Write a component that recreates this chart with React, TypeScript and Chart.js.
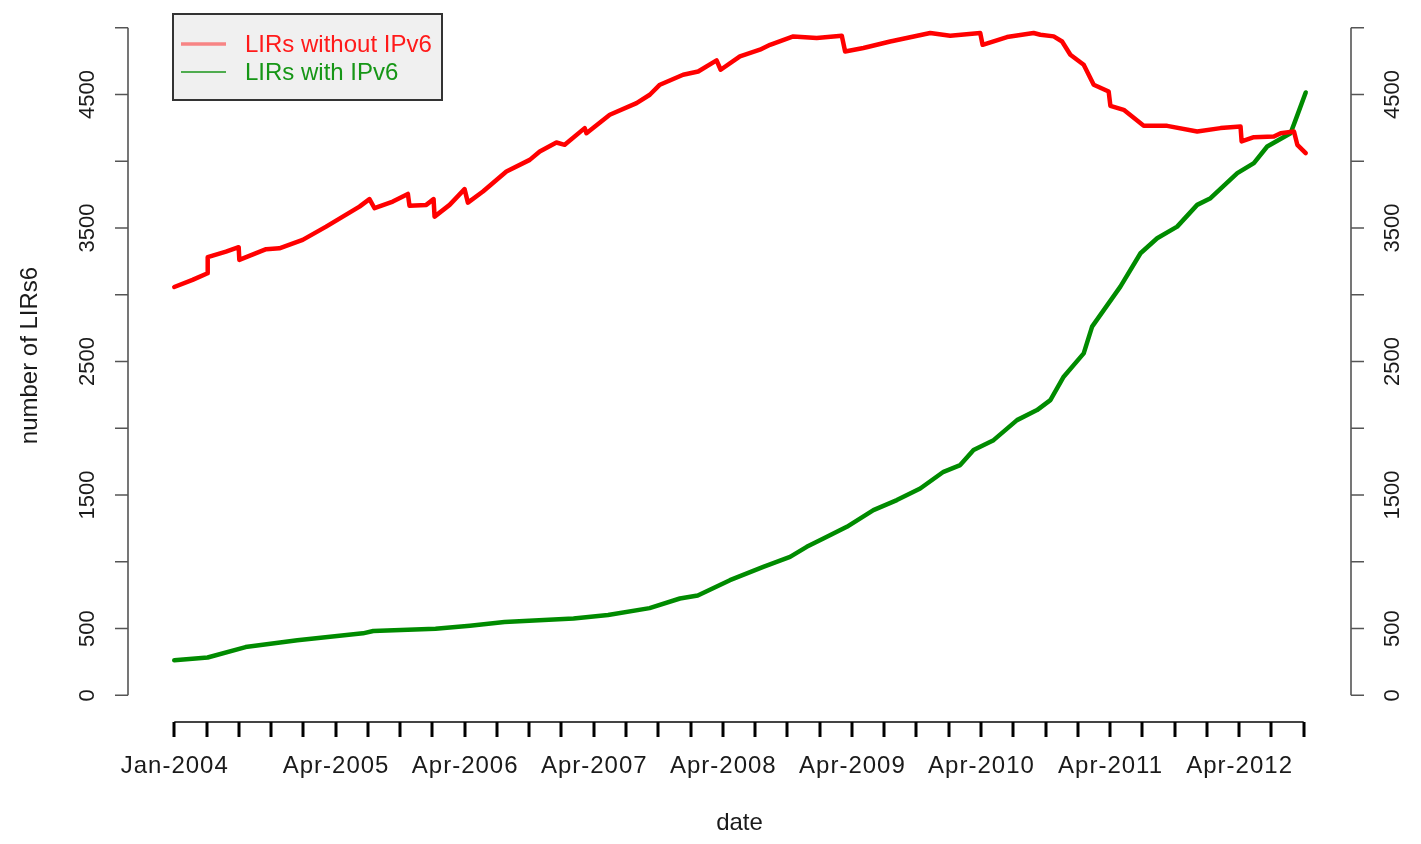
import React, { useEffect, useRef } from "react";
import { Chart, registerables } from "chart.js";

Chart.register(...registerables);

const FONT = '"Liberation Sans", Arial, Helvetica, sans-serif';

// x = months since Jan-2004
const redMonth = [
  0, 1.7, 3.1, 3.11, 4.81, 5.99, 6.05, 8.54, 9.77, 11.94, 14.12, 17.22, 18.15, 18.62,
  20.32, 21.72, 21.87, 23.43, 24.11, 24.2, 25.6, 26.99, 27.3, 28.7, 30.88, 33.05, 33.98,
  35.53, 36.3, 38.16, 38.32, 40.49, 42.98, 44.21, 45.15, 47.31, 48.71, 50.42, 50.8, 52.59,
  54.45, 55.39, 57.55, 59.73, 62.06, 62.37, 64.07, 66.56, 70.28, 72.14, 74.93, 75.15,
  77.42, 79.89, 80.52, 81.76, 82.54, 83.31, 84.55, 85.48, 86.87, 87.03, 88.27, 90.13,
  92.31, 95.1, 97.27, 99.13, 99.23, 100.37, 102.23, 102.86, 104.1, 104.41, 105.19,
];
const redValue = [
  3058, 3111, 3161, 3281, 3323, 3356, 3261, 3341, 3348, 3411, 3510, 3660, 3716, 3648,
  3698, 3755, 3666, 3673, 3716, 3585, 3673, 3791, 3690, 3773, 3923, 4010, 4073,
  4140, 4123, 4248, 4210, 4348, 4435, 4498, 4573, 4648, 4672, 4755, 4685, 4785,
  4835, 4872, 4935, 4923, 4940, 4822, 4848, 4897, 4960, 4940, 4960, 4872,
  4930, 4960, 4947, 4935, 4897, 4797, 4722, 4573, 4522, 4415, 4385, 4265,
  4265, 4223, 4248, 4260, 4148, 4180, 4185, 4210, 4223, 4123, 4060,
];

const greenMonth = [
  0, 3.1, 6.63, 11.44, 17.54, 18.5, 24.29, 27.49, 30.7, 37.12, 40.33, 44.19, 47.01,
  48.67, 51.66, 54.76, 57.25, 58.8, 60.35, 62.53, 65.0, 67.18, 69.35, 71.52, 73.07,
  74.31, 76.17, 78.35, 80.21, 81.45, 82.69, 84.55, 85.33, 87.96, 89.83, 91.38, 93.24,
  95.1, 96.34, 98.83, 100.37, 101.61, 103.78, 104.25, 105.19,
];
const greenValue = [
  262, 283, 361, 412, 464, 482, 498, 521, 549, 575, 601, 653, 725,
  748, 862, 962, 1037, 1112, 1174, 1262, 1387, 1462, 1549, 1674, 1724,
  1837, 1911, 2061, 2136, 2211, 2386, 2561, 2761, 3061, 3311, 3423, 3510,
  3673, 3723, 3911, 3986, 4110, 4210, 4310, 4515,
];

const seriesNames = ["LIRs without IPv6", "LIRs with IPv6"];
const seriesColors = ["#ff0000", "#008b00"];

const yTicks = [0, 500, 1000, 1500, 2000, 2500, 3000, 3500, 4000, 4500, 5000];
const yLabelTicks = [0, 500, 1500, 2500, 3500, 4500];
const xTicks = [
  0, 3, 6, 9, 12, 15, 18, 21, 24, 27, 30, 33, 36, 39, 42, 45, 48, 51, 54, 57, 60, 63,
  66, 69, 72, 75, 78, 81, 84, 87, 90, 93, 96, 99, 102, 105,
];
const xLabelMonths = [0, 15, 27, 39, 51, 63, 75, 87, 99];
const xLabels = [
  "Jan-2004", "Apr-2005", "Apr-2006", "Apr-2007", "Apr-2008",
  "Apr-2009", "Apr-2010", "Apr-2011", "Apr-2012",
];
const xTitle = "date";
const yTitle = "number of LIRs6";

const rAxesPlugin = {
  id: "rAxes",
  afterDraw(chart: any) {
    const ctx = chart.ctx;
    const xs = chart.scales.x;
    const ys = chart.scales.y;
    const area = chart.chartArea;
    ctx.save();
    const textCol = "#1a1a1a";

    // left & right axes
    const sides = [
      { x: area.left, dir: -1, lab: 88 },
      { x: area.right, dir: 1, lab: 1393 },
    ];
    for (const s of sides) {
      ctx.strokeStyle = "#555";
      ctx.lineWidth = 1.6;
      ctx.beginPath();
      ctx.moveTo(s.x, ys.getPixelForValue(yTicks[0]));
      ctx.lineTo(s.x, ys.getPixelForValue(yTicks[yTicks.length - 1]));
      for (const t of yTicks) {
        const py = ys.getPixelForValue(t);
        ctx.moveTo(s.x, py);
        ctx.lineTo(s.x + s.dir * 13, py);
      }
      ctx.stroke();
      ctx.fillStyle = textCol;
      ctx.font = `22px ${FONT}`;
      ctx.textAlign = "center";
      ctx.textBaseline = "middle";
      for (const t of yLabelTicks) {
        const py = ys.getPixelForValue(t);
        ctx.save();
        ctx.translate(s.lab, py);
        ctx.rotate(-Math.PI / 2);
        ctx.fillText(String(t), 0, 0);
        ctx.restore();
      }
    }

    // bottom axis
    const by = area.bottom;
    ctx.strokeStyle = "#444";
    ctx.lineWidth = 2;
    ctx.beginPath();
    ctx.moveTo(xs.getPixelForValue(xTicks[0]), by);
    ctx.lineTo(xs.getPixelForValue(xTicks[xTicks.length - 1]), by);
    ctx.stroke();
    ctx.strokeStyle = "#000";
    ctx.lineWidth = 3;
    ctx.beginPath();
    for (const t of xTicks) {
      const px = Math.round(xs.getPixelForValue(t));
      ctx.moveTo(px, by);
      ctx.lineTo(px, by + 15);
    }
    ctx.stroke();
    ctx.fillStyle = textCol;
    ctx.font = `24px ${FONT}`;
    ctx.textAlign = "center";
    ctx.textBaseline = "middle";
    ctx.letterSpacing = "1px";
    xLabelMonths.forEach((m, i) => {
      ctx.fillText(xLabels[i], xs.getPixelForValue(m) + 0.5, 766);
    });
    ctx.letterSpacing = "0px";

    // titles
    ctx.font = `24px ${FONT}`;
    ctx.fillText(xTitle, (area.left + area.right) / 2, 823);
    ctx.save();
    ctx.translate(30, (area.top + area.bottom) / 2 - 6);
    ctx.rotate(-Math.PI / 2);
    ctx.fillText(yTitle, 0, 0);
    ctx.restore();

    // legend
    const lx = 173, ly = 14, lw = 269, lh = 86;
    ctx.fillStyle = "#f0f0f0";
    ctx.fillRect(lx, ly, lw, lh);
    ctx.strokeStyle = "#333";
    ctx.lineWidth = 2;
    ctx.strokeRect(lx, ly, lw, lh);
    const rows = [44, 72];
    const swatch = ["rgba(255,0,0,0.45)", "#1a961a"];
    const swW = [3.5, 1.5];
    const txtCol = ["#ff1a1a", "#169616"];
    ctx.font = `24px ${FONT}`;
    ctx.textAlign = "left";
    rows.forEach((ry, i) => {
      ctx.strokeStyle = swatch[i];
      ctx.lineWidth = swW[i];
      ctx.beginPath();
      ctx.moveTo(181, ry);
      ctx.lineTo(226, ry);
      ctx.stroke();
      ctx.fillStyle = txtCol[i];
      ctx.fillText(seriesNames[i], 245, ry + 1);
    });
    ctx.restore();
  },
};

export default function App() {
  const ref = useRef<HTMLCanvasElement | null>(null);
  useEffect(() => {
    if (!ref.current) return;
    const chart = new Chart(ref.current, {
      type: "line",
      data: {
        datasets: [
          {
            label: seriesNames[0],
            data: redMonth.map((m, i) => ({ x: m, y: redValue[i] })),
            borderColor: seriesColors[0],
            borderWidth: 4.5,
            pointRadius: 0,
            tension: 0,
            borderJoinStyle: "round",
            borderCapStyle: "round",
          },
          {
            label: seriesNames[1],
            data: greenMonth.map((m, i) => ({ x: m, y: greenValue[i] })),
            borderColor: seriesColors[1],
            borderWidth: 4.5,
            pointRadius: 0,
            tension: 0,
            borderJoinStyle: "round",
            borderCapStyle: "round",
          },
        ],
      },
      options: {
        animation: false,
        responsive: false,
        events: [],
        layout: { padding: { left: 128, right: 70, top: 1, bottom: 122 } },
        plugins: { legend: { display: false }, tooltip: { enabled: false } },
        scales: {
          x: { type: "linear", min: -4.3, max: 109.4, display: false },
          y: { type: "linear", min: -200, max: 5200, display: false },
        },
      },
      plugins: [rAxesPlugin],
    });
    return () => chart.destroy();
  }, []);
  return (
    <div style={{ position: "fixed", left: 0, top: 0, width: 1421, height: 844, background: "#fff" }}>
      <canvas ref={ref} width={1421} height={844} />
    </div>
  );
}
